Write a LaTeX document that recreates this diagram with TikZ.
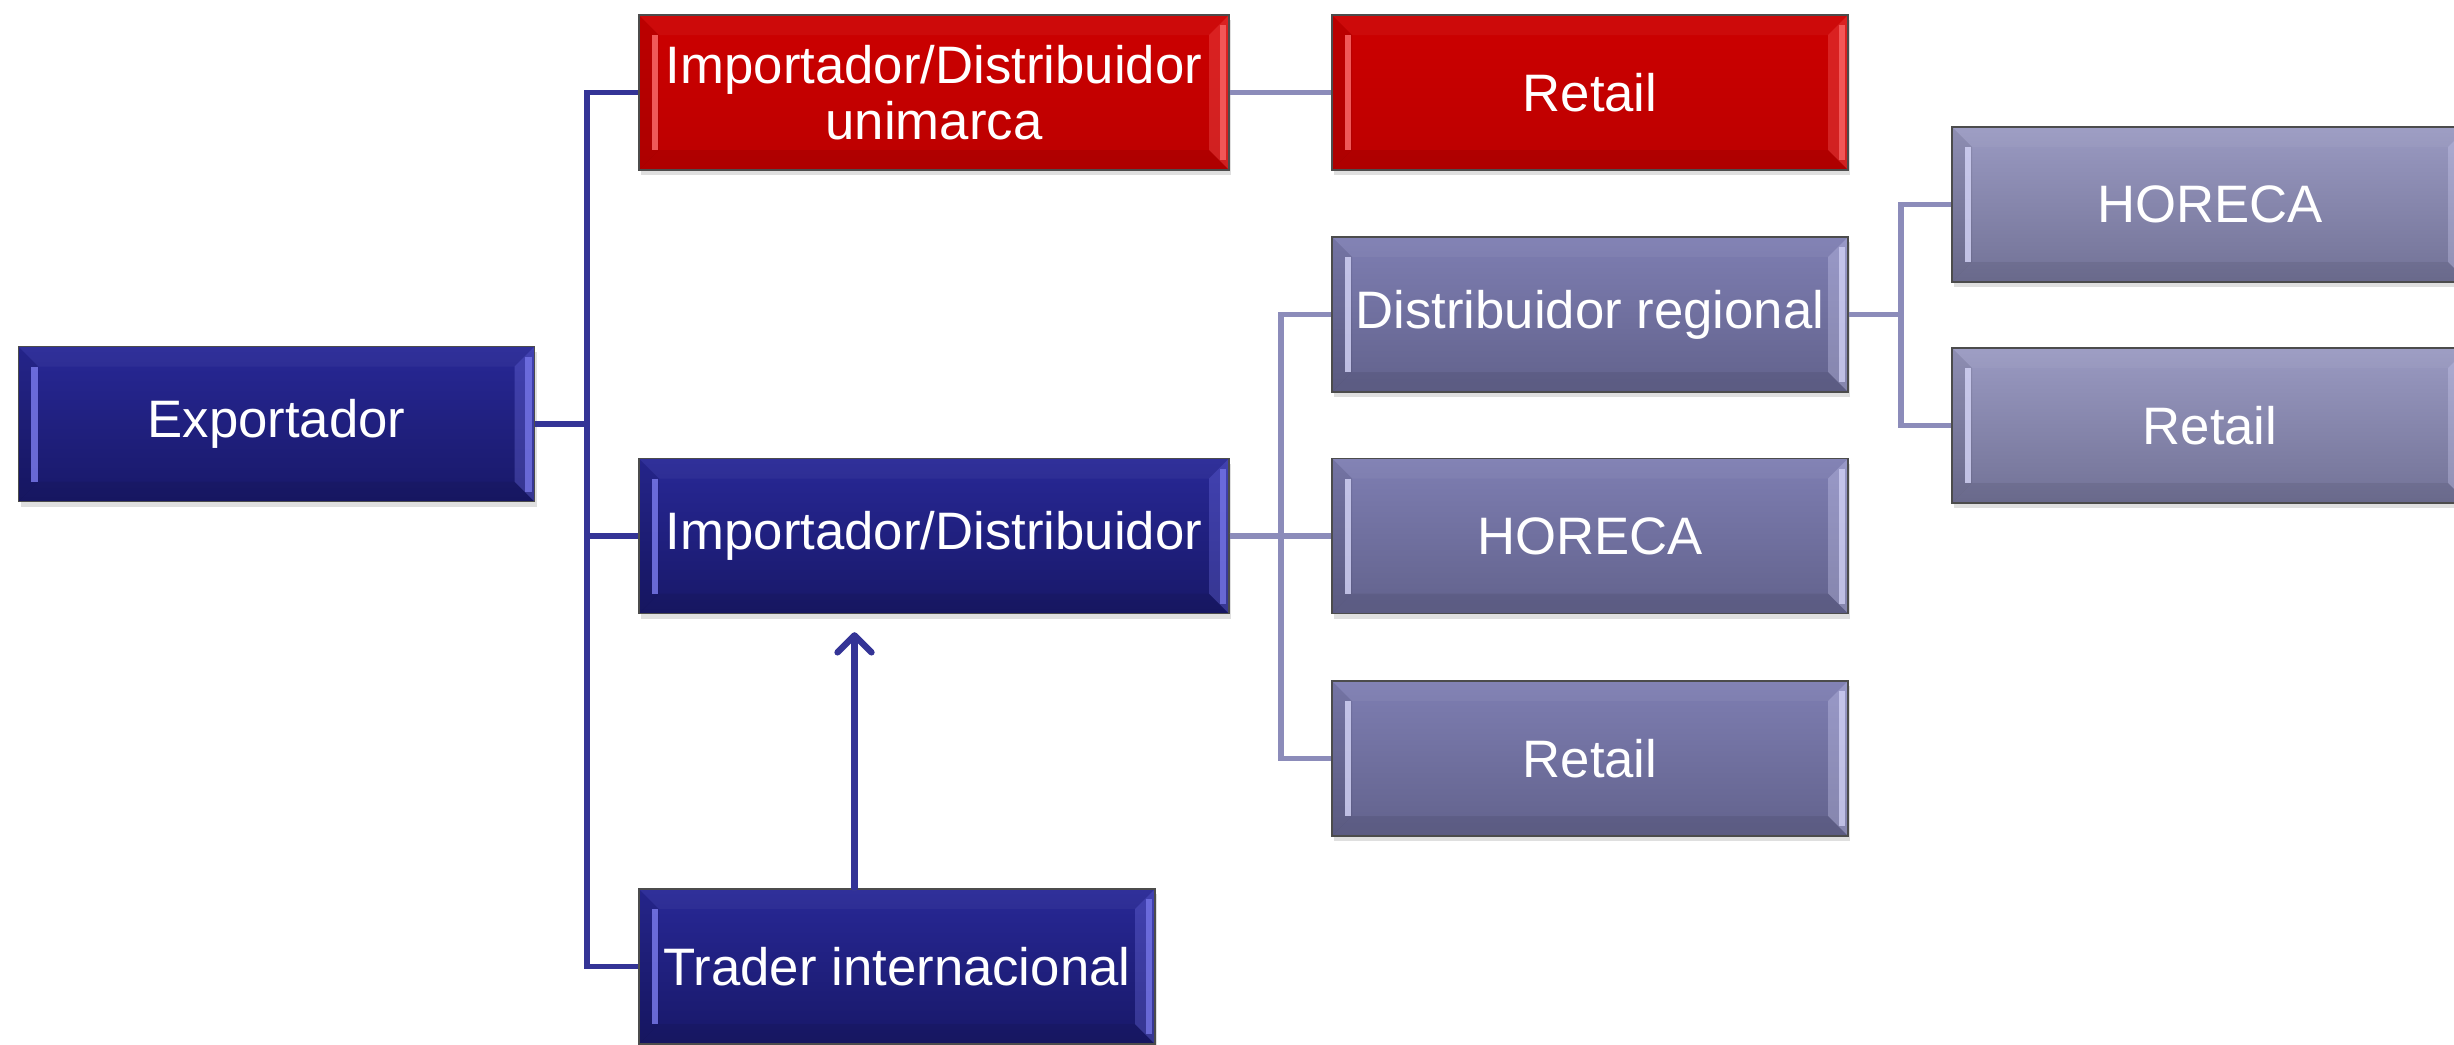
\documentclass[tikz,border=0pt]{standalone}
\usepackage{fontspec}
\setmainfont{Liberation Sans}
\usetikzlibrary{arrows.meta,calc,positioning,shadows}

\definecolor{navyT}{RGB}{40,40,150}
\definecolor{navyB}{RGB}{24,24,104}
\definecolor{navyL}{RGB}{125,125,240}
\definecolor{redT}{RGB}{204,0,0}
\definecolor{redB}{RGB}{188,0,0}
\definecolor{redL}{RGB}{255,110,110}
\definecolor{lavT}{RGB}{126,126,178}
\definecolor{lavB}{RGB}{98,98,140}
\definecolor{lavL}{RGB}{215,215,250}
\definecolor{lilT}{RGB}{154,154,194}
\definecolor{lilB}{RGB}{114,114,150}
\definecolor{busdark}{RGB}{52,52,150}
\definecolor{buslight}{RGB}{140,140,186}

\tikzset{
  bevel/.style={path picture={
    % side bevels
    \fill[black,opacity=0.08] (path picture bounding box.north west) -- ++(0.2,-0.2)
      -- ([shift={(0.2,0.2)}]path picture bounding box.south west) -- (path picture bounding box.south west) -- cycle;
    \draw[#1,line width=1.8pt,opacity=0.8] ([shift={(0.16,-0.2)}]path picture bounding box.north west)
      -- ([shift={(0.16,0.2)}]path picture bounding box.south west);
    \fill[#1,opacity=0.3] (path picture bounding box.north east) -- ++(-0.2,-0.2)
      -- ([shift={(-0.2,0.2)}]path picture bounding box.south east) -- (path picture bounding box.south east) -- cycle;
    \draw[#1,line width=1.8pt,opacity=0.7] ([shift={(-0.06,-0.1)}]path picture bounding box.north east)
      -- ([shift={(-0.06,0.1)}]path picture bounding box.south east);
    % top and bottom bevels
    \fill[white,opacity=0.04] (path picture bounding box.north west) -- ++(0.2,-0.2)
      -- ([shift={(-0.2,-0.2)}]path picture bounding box.north east) -- (path picture bounding box.north east) -- cycle;
    \fill[black,opacity=0.07] (path picture bounding box.south west) -- ++(0.2,0.2)
      -- ([shift={(-0.2,0.2)}]path picture bounding box.south east) -- (path picture bounding box.south east) -- cycle;
  }},
  box/.style={rectangle,draw=black!70,line width=0.4pt,text=white,align=center,inner sep=0pt,
    minimum width=5.16cm,minimum height=1.55cm,font=\fontsize{15}{16}\selectfont,
    drop shadow={shadow xshift=0.02cm,shadow yshift=-0.05cm,opacity=0.25}},
  navybox/.style={box,top color=navyT,bottom color=navyB,bevel=navyL},
  redbox/.style={box,top color=redT,bottom color=redB,bevel=redL},
  lavbox/.style={box,top color=lavT,bottom color=lavB,bevel=lavL},
  lilbox/.style={box,top color=lilT,bottom color=lilB,bevel=lavL},
  wide/.style={minimum width=5.9cm},
  busline/.style={draw=busdark,line width=1.6pt},
  subline/.style={draw=buslight,line width=1.6pt},
  uparrow/.style={draw=busdark,line width=1.8pt,line cap=round,
    -{Straight Barb[round,length=1.7mm,width=3.4mm]}}
}

\begin{document}
\begin{tikzpicture}
  \useasboundingbox (0,0) rectangle (24.54,-10.44);

  % first level
  \node[navybox] (exp) at (2.765,-4.24) {Exportador};
  \node[redbox,wide] (uni) at (9.34,-0.925) {Importador/Distribuidor\\unimarca};
  \node[navybox,wide] (imp) at (9.34,-5.36) {Importador/Distribuidor};
  \node[navybox] (trd) at (8.97,-9.665) {Trader internacional};

  % second level
  \node[redbox] (ret1) at (15.90,-0.925) {Retail};
  \node[lavbox] (reg) at (15.90,-3.145) {Distribuidor regional};
  \node[lavbox] (hor1) at (15.90,-5.36) {HORECA};
  \node[lavbox] (ret2) at (15.90,-7.585) {Retail};

  % third level
  \node[lilbox] (hor2) at (22.10,-2.045) {HORECA};
  \node[lilbox] (ret3) at (22.10,-4.255) {Retail};

  % connectors
  \foreach \c in {uni,imp,trd}
    \draw[busline] (exp.east) -- ++(0.52,0) |- (\c.west);
  \draw[subline] (uni.east) -- (ret1.west);
  \foreach \c in {reg,hor1,ret2}
    \draw[subline] (imp.east) -- ++(0.515,0) |- (\c.west);
  \foreach \c in {hor2,ret3}
    \draw[subline] (reg.east) -- ++(0.52,0) |- (\c.west);

  \draw[uparrow,shorten >=1.8mm] ([xshift=-4.25mm]trd.north) -- ([xshift=-4.25mm]trd.north |- imp.south);
\end{tikzpicture}
\end{document}
